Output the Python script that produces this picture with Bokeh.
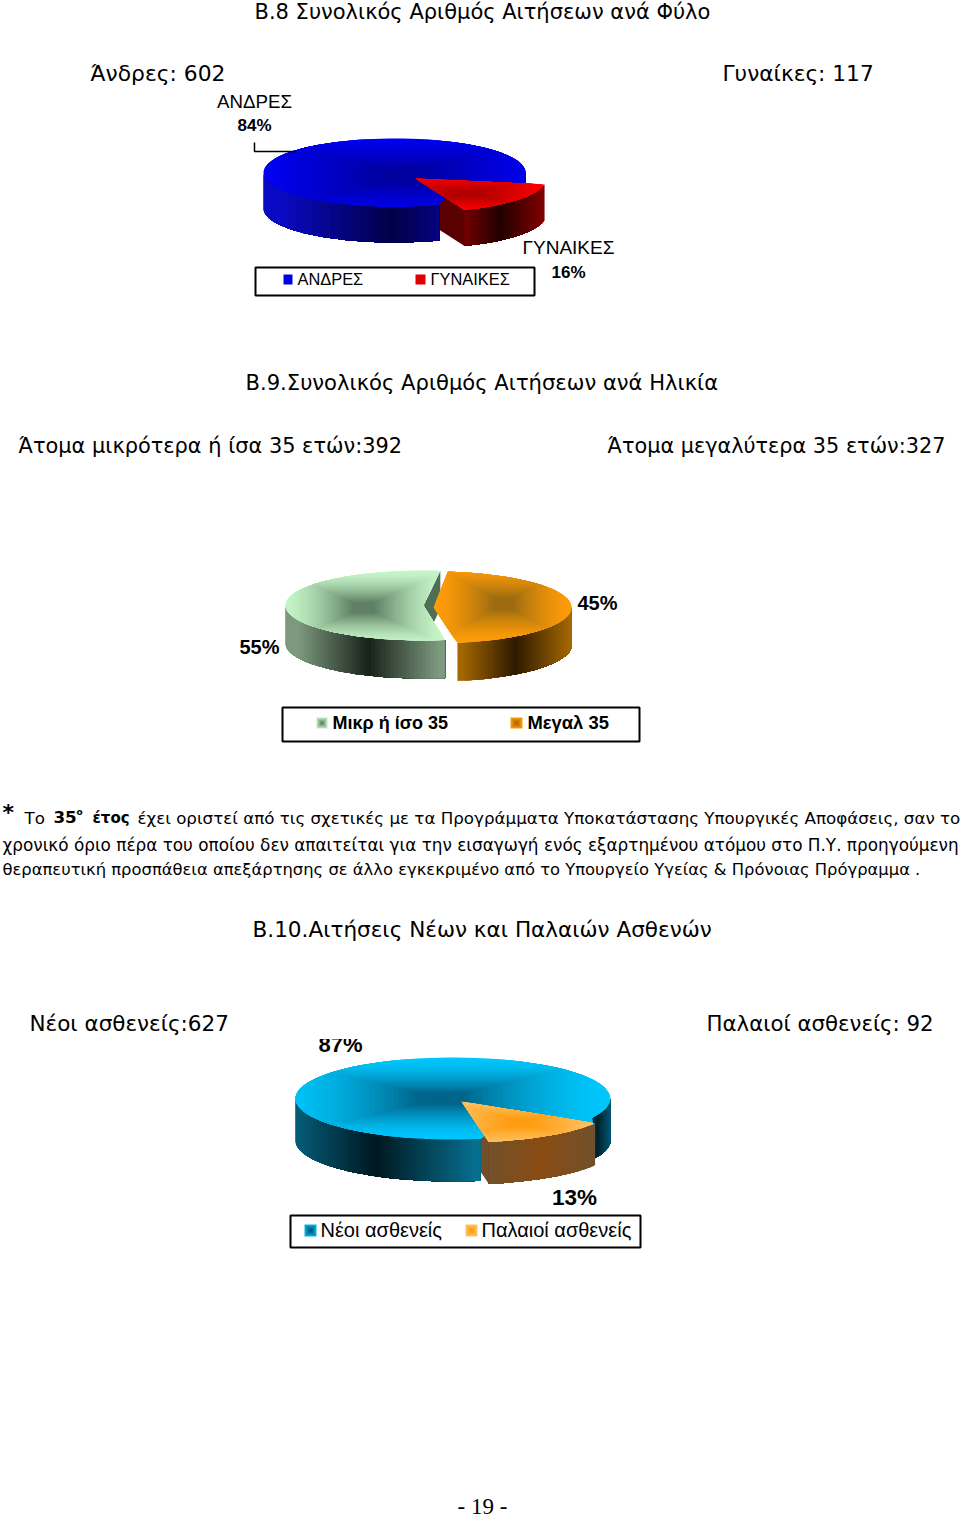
import math
from bokeh.plotting import figure
from bokeh.embed import file_html
from bokeh.resources import INLINE
from bokeh.core.properties import value

# ---------- data ----------
sex_labels = ["ΑΝΔΡΕΣ", "ΓΥΝΑΙΚΕΣ"]
sex_pct = [84, 16]
age_labels = ["Μικρ ή ίσο 35", "Μεγαλ 35"]
age_pct = [55, 45]
pat_labels = ["Νέοι ασθενείς", "Παλαιοί ασθενείς"]
pat_pct = [87, 13]

COMIC = "DejaVu Sans"
ARIAL = "Liberation Sans"

p = figure(width=960, height=1519, x_range=(0, 960), y_range=(1519, 0),
           toolbar_location=None, output_backend="svg", x_axis_type=None, y_axis_type=None,
           min_border=0, outline_line_color=None, background_fill_color="white")
p.grid.visible = False
p.styles = {"position": "absolute", "left": "0px", "top": "0px"}


def hex2(c):
    return tuple(int(c[i:i + 2], 16) for i in (1, 3, 5))


def lerp(a, b, t):
    a, b = hex2(a), hex2(b)
    return "#%02x%02x%02x" % tuple(round(a[i] + (b[i] - a[i]) * t) for i in range(3))


def clip_rect(poly, x0, x1, y0, y1):
    def clip(pts, inside, cross):
        out = []
        for i, q in enumerate(pts):
            r = pts[i - 1]
            if inside(q):
                if not inside(r):
                    out.append(cross(r, q))
                out.append(q)
            elif inside(r):
                out.append(cross(r, q))
        return out

    def xc(v):
        return lambda a, b: (v, a[1] + (b[1] - a[1]) * (v - a[0]) / (b[0] - a[0]))

    def yc(v):
        return lambda a, b: (a[0] + (b[0] - a[0]) * (v - a[1]) / (b[1] - a[1]), v)

    for ins, cr in ((lambda q: q[0] >= x0, xc(x0)), (lambda q: q[0] <= x1, xc(x1)),
                    (lambda q: q[1] >= y0, yc(y0)), (lambda q: q[1] <= y1, yc(y1))):
        if not poly:
            return poly
        poly = clip(poly, ins, cr)
    return poly


def arc(cx, cy, rx, ry, a0, a1, n=90):
    return [(cx + rx * math.cos(math.radians(a0 + (a1 - a0) * i / n)),
             cy - ry * math.sin(math.radians(a0 + (a1 - a0) * i / n))) for i in range(n + 1)]


def gradient_fill(poly, fx, fy, rim, core, steps=36, ease=1.0):
    xs_, ys_ = zip(*poly)
    hx = max(max(xs_) - fx, fx - min(xs_))
    hy = max(max(ys_) - fy, fy - min(ys_))
    X, Y, C = [], [], []
    for i in range(steps):
        s = 1 - i / steps
        c = clip_rect(poly, fx - hx * s, fx + hx * s, fy - hy * s, fy + hy * s)
        if len(c) > 2:
            X.append([q[0] for q in c])
            Y.append([q[1] for q in c])
            C.append(lerp(rim, core, min((i / (steps - 1)) / 0.88, 1) ** ease))
    p.patches(X, Y, fill_color=C, line_color=None)


def top(cx, cy, rx, ry, a0, a1, focus, rim, core, apex=None, ease=1.0):
    gradient_fill((apex or [(cx, cy)]) + arc(cx, cy, rx, ry, a0, a1), focus[0], focus[1], rim, core, ease=ease)


def wall(cx, cy, rx, ry, depth, a0, a1, dark_x, span, edge, core):
    pts = arc(cx, cy, rx, ry, a0, a1, 60)
    X, Y, C = [], [], []
    for i in range(len(pts) - 1):
        rest = pts[i:]
        X.append([q[0] for q in rest] + [q[0] for q in rest[::-1]])
        Y.append([q[1] for q in rest] + [q[1] + depth for q in rest[::-1]])
        d = min(abs((pts[i][0] + pts[i + 1][0]) / 2 - dark_x) / span, 1)
        C.append(lerp(core, edge, d))
    p.patches(X, Y, fill_color=C, line_color=None)


def cut_wall(cx, cy, rx, ry, depth, a, color):
    e = arc(cx, cy, rx, ry, a, a, 1)[0]
    p.patch([cx, e[0], e[0], cx], [cy, e[1], e[1] + depth, cy + depth], fill_color=color, line_color=None)


def label(x, y, t, font=ARIAL, size=16, bold=False, align="center", color="black"):
    p.text([x], [y], text=[t], text_font=value(font), text_font_size=f"{size}px",
           text_font_style="bold" if bold else "normal", text_align=align,
           text_baseline="middle", text_color=color)


def box(x0, y0, x1, y1, w=2):
    p.patch([x0, x1, x1, x0], [y0, y0, y1, y1], fill_color="white", line_color="black", line_width=w)


def swatch(x0, y0, x1, y1, rim, core):
    gradient_fill([(x0, y0), (x1, y0), (x1, y1), (x0, y1)], (x0 + x1) / 2, (y0 + y1) / 2, rim, core, 8)


# ---------- headings ----------
label(254, 11, "B.8 Συνολικός Αριθμός Αιτήσεων ανά Φύλο", COMIC, 21, align="left")
label(90, 73, "Άνδρες: 602", COMIC, 21.8, align="left")
label(722, 73, "Γυναίκες: 117", COMIC, 21.7, align="left")
label(245, 382, "B.9.Συνολικός Αριθμός Αιτήσεων ανά Ηλικία", COMIC, 21.1, align="left")
label(18, 445, "Άτομα μικρότερα ή ίσα 35 ετών:392", COMIC, 20.9, align="left")
label(607, 445, "Άτομα μεγαλύτερα 35 ετών:327", COMIC, 20.8, align="left")
label(252, 929, "B.10.Αιτήσεις Νέων και Παλαιών Ασθενών", COMIC, 21.55, align="left")
label(29, 1023, "Νέοι ασθενείς:627", COMIC, 21.5, align="left")
label(706, 1023, "Παλαιοί ασθενείς: 92", COMIC, 21.3, align="left")

# ---------- paragraph ----------
label(2, 812, "*", COMIC, 22, True, "left")
label(24, 817, "Το", COMIC, 16.7, align="left")
label(53, 816, "35", COMIC, 16.7, True, "left")
label(76, 811, "ο", COMIC, 9, True, "left")
label(92, 817, "έτος", COMIC, 15, True, "left")
label(137, 817, "έχει οριστεί από τις σχετικές με τα Προγράμματα Υποκατάστασης Υπουργικές Αποφάσεις, σαν το", COMIC, 16.7, align="left")
label(2, 844, "χρονικό όριο πέρα του οποίου δεν απαιτείται για την εισαγωγή ενός εξαρτημένου ατόμου στο Π.Υ. προηγούμενη", COMIC, 16.85, align="left")
label(2, 869, "θεραπευτική προσπάθεια απεξάρτησης σε άλλο εγκεκριμένο από το Υπουργείο Υγείας  & Πρόνοιας Πρόγραμμα .", COMIC, 16.37, align="left")
label(482, 1506, "- 19 -", "Liberation Serif", 23)

# ---------- pie 1 ----------
C1 = (394, 172, 131, 34)
R1 = (415, 178, 131, 34)
D1 = 36
wall(*C1, D1, -11, 0, 525, 40, "#0000d0", "#0000d0")
cut_wall(*R1, D1, -68, "#5a0000")
wall(*R1, D1, -10, -68, 500, 42, "#800000", "#220000")
wall(*C1, D1, -180, -70, 390, 110, "#0a0ac4", "#000048")
top(*C1, -70, -371, (400, 175), "#0000f5", "#0000a0", apex=[(525, 186), (450, 190)])
top(*R1, -10, -68, (468, 193), "#ff0000", "#b00000")
p.line([254, 254, 295], [142, 151, 151], line_color="black", line_width=1.5)
label(254, 101, sex_labels[0], size=18.7)
label(254, 125, f"{sex_pct[0]}%", size=17, bold=True)
label(568, 247, sex_labels[1], size=19)
label(568, 272, f"{sex_pct[1]}%", size=17, bold=True)
box(255, 267, 534, 295)
swatch(283, 274, 292, 284, "#0000e0", "#0000e0")
swatch(415, 274, 425, 284, "#e00000", "#e00000")
label(297, 278, sex_labels[0], size=16.4, align="left")
label(430, 278, sex_labels[1], size=16.4, align="left")

# ---------- pie 2 ----------
S = (423, 605, 138, 35)
O = (433, 607, 138, 36)
D2 = 38
cut_wall(*S, D2, 83, "#4f6e55")
wall(*S, D2, -180, -81, 368, 70, "#7d997f", "#18221a")
top(*S, 83, 279, (363, 607), "#c6f6c8", "#5f8065", ease=1.5)
wall(*O, D2, -80, 0, 515, 55, "#a56800", "#2e1a00")
top(*O, 84, -80, (503, 603), "#ff9c08", "#9c6c10", ease=1.5)
label(597, 602, f"{age_pct[1]}%", size=20, bold=True)
label(259, 646, f"{age_pct[0]}%", size=20, bold=True)
box(282, 707, 639, 741)
swatch(316, 717, 327, 728, "#c0f0c0", "#6a8a70")
swatch(510, 717, 522, 728, "#ff9c08", "#b06a00")
label(332, 722, age_labels[0], size=18, bold=True, align="left")
label(527, 722, age_labels[1], size=18.4, bold=True, align="left")

# ---------- pie 3 ----------
N = (452.5, 1098, 157.5, 41)
A = (461, 1101, 157.5, 41)
D3 = 42
wall(*N, D3, -28, 0, 597, 18, "#05708f", "#00202c")
cut_wall(*A, D3, -80, "#70502c")
wall(*A, D3, -32, -80, 540, 60, "#6e5230", "#8a4c12")
wall(*N, D3, -180, -80, 375, 100, "#066f8f", "#001820")
top(*N, -80, -388, (440, 1098), "#00c6fc", "#00658a", apex=[(592, 1124), (510, 1118)], ease=1.6)
top(*A, -32, -80, (520, 1122), "#ffc368", "#ff9c10")
label(340, 1044, f"{pat_pct[0]}%", size=22, bold=True)
p.patch([315, 365, 365, 315], [1026, 1026, 1038, 1038], fill_color="white", line_color="white")
label(574, 1197, f"{pat_pct[1]}%", size=22.5, bold=True)
box(290, 1215, 640, 1247)
swatch(304, 1224, 316, 1236, "#00b4e6", "#005a78")
swatch(465, 1224, 477, 1236, "#ffc368", "#ff9c10")
label(320, 1229, pat_labels[0], size=20, align="left")
label(481, 1229, pat_labels[1], size=20, align="left")

open("out.html", "w").write(file_html(p, INLINE))
